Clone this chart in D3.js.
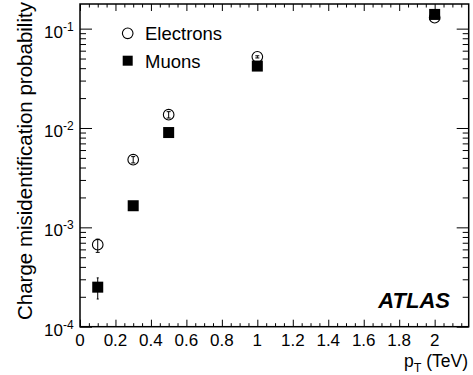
<!DOCTYPE html>
<html>
<head>
<meta charset="utf-8">
<script src="https://cdn.jsdelivr.net/npm/d3@7"></script>
<style>
  html, body { margin: 0; padding: 0; background: #fff; }
  svg { display: block; }
  text { font-family: "Liberation Sans", Arial, Helvetica, sans-serif; fill: #000; }
</style>
</head>
<body>
<svg id="chart" width="473" height="375"></svg>
<script>
// Charge misidentification probability vs transverse momentum
const ptValues = [0.1, 0.3, 0.5, 1.0, 2.0];

const electronProb = [6.7e-4, 4.8e-3, 1.36e-2, 5.2e-2, 0.129];
const electronErrUp = [0.9e-4, 0.35e-3, 0.1e-2, 0.13e-2, 0.002];
const electronErrDown = [1.1e-4, 0.35e-3, 0.1e-2, 0.13e-2, 0.002];

const muonProb = [2.5e-4, 1.65e-3, 9.0e-3, 4.2e-2, 0.139];
const muonErrUp = [0.6e-4, 0.03e-3, 0.1e-3, 0.5e-3, 0.002];
const muonErrDown = [0.6e-4, 0.03e-3, 0.1e-3, 0.5e-3, 0.002];

const xTickValues = [0, 0.2, 0.4, 0.6, 0.8, 1, 1.2, 1.4, 1.6, 1.8, 2];
const xTickLabels = ["0", "0.2", "0.4", "0.6", "0.8", "1", "1.2", "1.4", "1.6", "1.8", "2"];
const yTickExponents = [-4, -3, -2, -1];

const legendLabels = ["Electrons", "Muons"];

const svg = d3.select("#chart");
const plot = { left: 80, right: 468.7, top: 4, bottom: 326.7 };

const x = d3.scaleLinear().domain([0, 2.192]).range([plot.left, plot.right]);
const y = d3.scaleLog().domain([1e-4, 0.177]).range([plot.bottom, plot.top]);

// minor ticks: every 0.05 in pT, 2..9 per decade in probability
const xMinor = d3.range(0, 2.19, 0.05).map(v => +v.toFixed(2))
  .filter(v => !xTickValues.some(t => Math.abs(t - v) < 1e-6));
const yMinor = [];
for (let e = -4; e <= -1; e++) {
  for (let m = 2; m <= 9; m++) {
    const v = m * Math.pow(10, e);
    if (v <= 0.177) yMinor.push(v);
  }
}

const axisStyle = g => {
  g.select(".domain").remove();
  g.selectAll(".tick line").attr("stroke", "#000").attr("stroke-width", 1);
  g.selectAll(".tick text").remove();
};

// bottom and top axes (ticks point into the frame)
svg.append("g").attr("transform", `translate(0,${plot.bottom})`)
  .call(d3.axisBottom(x).tickValues(xTickValues).tickSize(-7).tickFormat(""))
  .call(axisStyle);
svg.append("g").attr("transform", `translate(0,${plot.bottom})`)
  .call(d3.axisBottom(x).tickValues(xMinor).tickSize(-3.5).tickFormat(""))
  .call(axisStyle);
svg.append("g").attr("transform", `translate(0,${plot.top})`)
  .call(d3.axisTop(x).tickValues(xTickValues).tickSize(-7).tickFormat(""))
  .call(axisStyle);
svg.append("g").attr("transform", `translate(0,${plot.top})`)
  .call(d3.axisTop(x).tickValues(xMinor).tickSize(-3.5).tickFormat(""))
  .call(axisStyle);

// left and right axes
const yMajor = yTickExponents.map(e => Math.pow(10, e));
svg.append("g").attr("transform", `translate(${plot.left},0)`)
  .call(d3.axisLeft(y).tickValues(yMajor).tickSize(-12).tickFormat(""))
  .call(axisStyle);
svg.append("g").attr("transform", `translate(${plot.left},0)`)
  .call(d3.axisLeft(y).tickValues(yMinor).tickSize(-6).tickFormat(""))
  .call(axisStyle);
svg.append("g").attr("transform", `translate(${plot.right},0)`)
  .call(d3.axisRight(y).tickValues(yMajor).tickSize(-12).tickFormat(""))
  .call(axisStyle);
svg.append("g").attr("transform", `translate(${plot.right},0)`)
  .call(d3.axisRight(y).tickValues(yMinor).tickSize(-6).tickFormat(""))
  .call(axisStyle);

// frame
svg.append("rect")
  .attr("x", plot.left).attr("y", plot.top)
  .attr("width", plot.right - plot.left).attr("height", plot.bottom - plot.top)
  .attr("fill", "none").attr("stroke", "#000").attr("stroke-width", 1.5);

// x tick labels
svg.append("g").selectAll("text").data(xTickValues).join("text")
  .attr("x", d => x(d)).attr("y", 346)
  .attr("text-anchor", "middle").attr("font-size", 17)
  .text((d, i) => xTickLabels[i]);

// y tick labels: 10 with a superscript exponent
const yLab = svg.append("g").selectAll("text").data(yTickExponents).join("text")
  .attr("x", 44).attr("y", d => y(Math.pow(10, d)) + 9)
  .attr("font-size", 17);
yLab.append("tspan").text("10");
yLab.append("tspan").attr("dy", -7).attr("font-size", 12).text(d => String(d));

// axis titles
svg.append("text")
  .attr("transform", "translate(32,320) rotate(-90)")
  .attr("font-size", 20.5)
  .text("Charge misidentification probability");

const xt = svg.append("text").attr("x", 468).attr("y", 367)
  .attr("text-anchor", "end").attr("font-size", 17.5);
xt.append("tspan").text("p");
xt.append("tspan").attr("dy", 5).attr("font-size", 12.5).text("T");
xt.append("tspan").attr("dy", -5).text(" (TeV)");

// ATLAS label
svg.append("text").attr("x", 450).attr("y", 308)
  .attr("text-anchor", "end").attr("font-size", 22)
  .attr("font-weight", "bold").attr("font-style", "italic")
  .text("ATLAS");

// error bars with small caps
function drawErrors(vals, up, down, cap) {
  const g = svg.append("g").attr("stroke", "#000").attr("stroke-width", 1);
  vals.forEach((v, i) => {
    const cx = x(ptValues[i]);
    const y1 = y(v + up[i]), y0 = y(v - down[i]);
    g.append("line").attr("x1", cx).attr("x2", cx).attr("y1", y1).attr("y2", y0);
    g.append("line").attr("x1", cx - cap).attr("x2", cx + cap).attr("y1", y1).attr("y2", y1);
    g.append("line").attr("x1", cx - cap).attr("x2", cx + cap).attr("y1", y0).attr("y2", y0);
  });
}

// electrons: open circles
drawErrors(electronProb, electronErrUp, electronErrDown, 2);
svg.append("g").selectAll("circle").data(electronProb).join("circle")
  .attr("cx", (d, i) => x(ptValues[i])).attr("cy", d => y(d))
  .attr("r", 5.3).attr("fill", "none").attr("stroke", "#000").attr("stroke-width", 1.1);

// muons: filled squares
drawErrors(muonProb, muonErrUp, muonErrDown, 1);
const sq = 11;
svg.append("g").selectAll("rect").data(muonProb).join("rect")
  .attr("x", (d, i) => x(ptValues[i]) - sq / 2).attr("y", d => y(d) - sq / 2)
  .attr("width", sq).attr("height", sq).attr("fill", "#000");

// legend
svg.append("circle").attr("cx", 127.7).attr("cy", 33.3).attr("r", 5.3)
  .attr("fill", "none").attr("stroke", "#000").attr("stroke-width", 1.1);
svg.append("rect").attr("x", 122.7).attr("y", 55.7).attr("width", 10).attr("height", 10).attr("fill", "#000");
svg.append("text").attr("x", 145).attr("y", 40).attr("font-size", 18.5).text(legendLabels[0]);
svg.append("text").attr("x", 145).attr("y", 68).attr("font-size", 18.5).text(legendLabels[1]);
</script>
</body>
</html>
